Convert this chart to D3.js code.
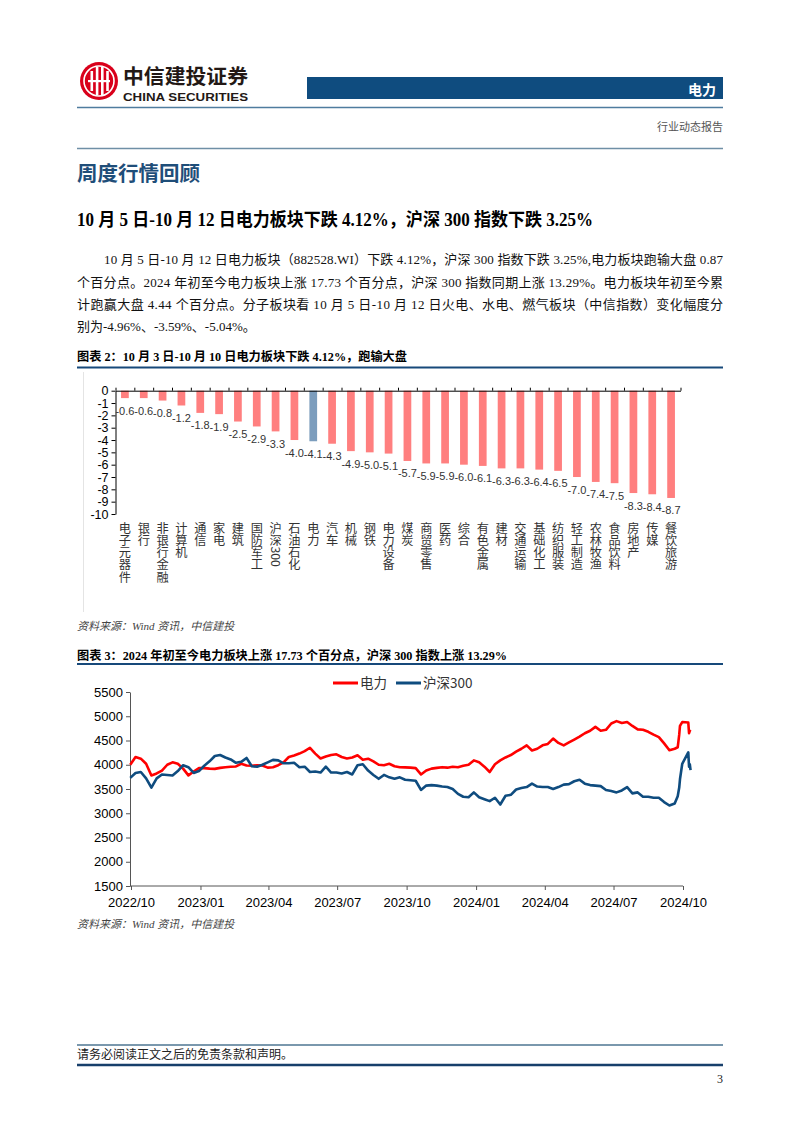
<!DOCTYPE html>
<html><head><meta charset="utf-8">
<script src="https://cdn.jsdelivr.net/npm/d3@7"></script>
<style>
body{margin:0;background:#fff;}
svg{display:block;}
</style></head><body>
<svg id="page" width="802" height="1133"></svg>
<script>
// ---------- DATA ----------
const barCategories = ["电子元器件","银行","非银行金融","计算机","通信","家电","建筑","国防军工","沪深300","石油石化","电力","汽车","机械","钢铁","电力设备","煤炭","商贸零售","医药","综合","有色金属","建材","交通运输","基础化工","纺织服装","轻工制造","农林牧渔","食品饮料","房地产","传媒","餐饮旅游"];
const barValues = [-0.6,-0.6,-0.8,-1.2,-1.8,-1.9,-2.5,-2.9,-3.3,-4.0,-4.1,-4.3,-4.9,-5.0,-5.1,-5.7,-5.9,-5.9,-6.0,-6.1,-6.3,-6.3,-6.4,-6.5,-7.0,-7.4,-7.5,-8.3,-8.4,-8.7];
const barHighlight = "电力";
const barYTicks = [0,-1,-2,-3,-4,-5,-6,-7,-8,-9,-10];

const lineDates = [
"2022-09-30","2022-10-07","2022-10-14","2022-10-21","2022-10-28","2022-11-04","2022-11-11","2022-11-18","2022-11-25","2022-12-02","2022-12-09","2022-12-16","2022-12-23","2022-12-30",
"2023-01-06","2023-01-13","2023-01-20","2023-01-27","2023-02-03","2023-02-10","2023-02-17","2023-02-24","2023-03-03","2023-03-10","2023-03-17","2023-03-24","2023-03-31","2023-04-07","2023-04-14","2023-04-21","2023-04-28","2023-05-05","2023-05-12","2023-05-19","2023-05-26","2023-06-02","2023-06-09","2023-06-16","2023-06-23","2023-06-30","2023-07-07","2023-07-14","2023-07-21","2023-07-28","2023-08-04","2023-08-11","2023-08-18","2023-08-25","2023-09-01","2023-09-08","2023-09-15","2023-09-22","2023-09-29","2023-10-06","2023-10-13","2023-10-20","2023-10-27","2023-11-03","2023-11-10","2023-11-17","2023-11-24","2023-12-01","2023-12-08","2023-12-15","2023-12-22","2023-12-29",
"2024-01-05","2024-01-12","2024-01-19","2024-01-26","2024-02-02","2024-02-09","2024-02-16","2024-02-23","2024-03-01","2024-03-08","2024-03-15","2024-03-22","2024-03-29","2024-04-05","2024-04-12","2024-04-19","2024-04-26","2024-05-03","2024-05-10","2024-05-17","2024-05-24","2024-05-31","2024-06-07","2024-06-14","2024-06-21","2024-06-28","2024-07-05","2024-07-12","2024-07-19","2024-07-26","2024-08-02","2024-08-09","2024-08-16","2024-08-23","2024-08-30","2024-09-06","2024-09-13","2024-09-20",
"2024-09-24","2024-09-26","2024-09-27","2024-09-30","2024-10-08","2024-10-09","2024-10-10","2024-10-11"];
const powerValues = [
4000,4160,4125,4020,3780,3820,3880,4000,4050,4020,3920,3780,3860,3930,
3930,3920,3915,3935,3950,3960,3965,4020,3985,3980,3990,3985,3940,3950,3990,4050,4160,4190,4230,4280,4350,4230,4130,4170,4200,4215,4160,4130,4150,4195,4105,4125,4070,4000,3990,4020,3970,3950,3945,3940,3930,3800,3880,3920,3935,3950,3940,3960,3950,3980,4000,4090,
4050,3960,3850,4010,4090,4150,4200,4270,4330,4400,4295,4330,4400,4430,4540,4450,4400,4460,4520,4580,4650,4700,4780,4700,4720,4850,4900,4860,4880,4800,4730,4720,4680,4620,4570,4440,4300,4330,
4360,4620,4800,4880,4870,4650,4700,4720];
const hs300Values = [
3730,3830,3850,3720,3530,3720,3800,3790,3780,3870,3990,3950,3830,3870,
3980,4070,4180,4200,4150,4110,4040,4060,4140,3970,3960,4000,4050,4100,4090,4030,4030,4040,3950,3960,3850,3860,3840,3960,3840,3840,3820,3850,3800,3990,4010,3880,3790,3710,3790,3740,3710,3740,3690,3680,3670,3480,3570,3580,3570,3550,3540,3500,3400,3340,3330,3430,
3330,3290,3250,3320,3180,3360,3380,3490,3520,3540,3610,3550,3540,3540,3500,3540,3590,3600,3660,3690,3610,3580,3570,3560,3480,3460,3430,3470,3540,3410,3430,3340,3340,3320,3320,3230,3160,3200,
3350,3530,3700,4020,4256,3960,4010,3890];
const lineSeriesNames = ["电力","沪深300"];
const lineYTicks = [1500,2000,2500,3000,3500,4000,4500,5000,5500];
const lineXTicks = ["2022/10","2023/01","2023/04","2023/07","2023/10","2024/01","2024/04","2024/07","2024/10"];

const paragraphLines = [
"10 月 5 日-10 月 12 日电力板块（882528.WI）下跌 4.12%，沪深 300 指数下跌 3.25%,电力板块跑输大盘 0.87",
"个百分点。2024 年初至今电力板块上涨 17.73 个百分点，沪深 300 指数同期上涨 13.29%。电力板块年初至今累",
"计跑赢大盘 4.44 个百分点。分子板块看 10 月 5 日-10 月 12 日火电、水电、燃气板块（中信指数）变化幅度分",
"别为-4.96%、-3.59%、-5.04%。"];

// ---------- STYLE ----------
const svg = d3.select("#page");
const serif = '"Liberation Serif","Times New Roman","Noto Sans CJK SC",serif';
const sans = 'Arial,"Liberation Sans","Noto Sans CJK SC",sans-serif';
const cjk = '"Noto Sans CJK SC",sans-serif';
const navy = "#17497a";
const L = 77, R = 723;

svg.append("rect").attr("width",802).attr("height",1133).attr("fill","#fff");

// ---------- HEADER ----------
const logo = svg.append("g");
logo.append("circle").attr("cx",99).attr("cy",81).attr("r",19).attr("fill","#d9001b");
logo.append("circle").attr("cx",99).attr("cy",81).attr("r",15).attr("fill","none").attr("stroke","#fff").attr("stroke-width",1.6);
[-8.5,-3.2,2,7.2].forEach((o,i)=>{
  logo.append("rect").attr("x",99+o).attr("y",i===0||i===3?71:67).attr("width",2.6)
    .attr("height",i===0||i===3?20:28).attr("fill","#fff");
});
logo.append("rect").attr("x",88).attr("y",80).attr("width",22).attr("height",2.2).attr("fill","#fff");
svg.append("text").attr("x",123).attr("y",83.5).attr("font-family",cjk).attr("font-weight","bold")
  .attr("font-size",20).attr("fill","#231815").attr("textLength",125).attr("lengthAdjust","spacingAndGlyphs").text("中信建投证券");
svg.append("text").attr("x",123).attr("y",100.5).attr("font-family",sans).attr("font-weight","bold")
  .attr("font-size",11.5).attr("fill","#231815").attr("textLength",125).attr("lengthAdjust","spacingAndGlyphs").text("CHINA SECURITIES");
svg.append("rect").attr("x",307).attr("y",77).attr("width",R-307).attr("height",22).attr("fill","#0f4c7f");
svg.append("text").attr("x",716).attr("y",94.5).attr("text-anchor","end").attr("font-family",cjk)
  .attr("font-weight","bold").attr("font-size",14).attr("fill","#fff").text("电力");
svg.append("line").attr("x1",L).attr("x2",R).attr("y1",107.5).attr("y2",107.5).attr("stroke","#4f7c9e").attr("stroke-width",1.6);
svg.append("text").attr("x",R).attr("y",131).attr("text-anchor","end").attr("font-family",cjk)
  .attr("font-size",11).attr("fill","#555").text("行业动态报告");
svg.append("line").attr("x1",L).attr("x2",R).attr("y1",148.5).attr("y2",148.5).attr("stroke","#6f8fa6").attr("stroke-width",1.6);

// ---------- SECTION TEXT ----------
svg.append("text").attr("x",L).attr("y",181).attr("font-family",cjk).attr("font-weight","bold")
  .attr("font-size",20.5).attr("fill","#1f4e79").text("周度行情回顾");
svg.append("text").attr("x",L).attr("y",226).attr("font-family",serif).attr("font-weight","bold")
  .attr("font-size",18).attr("fill","#000").attr("textLength",516).attr("lengthAdjust","spacingAndGlyphs")
  .text("10 月 5 日-10 月 12 日电力板块下跌 4.12%，沪深 300 指数下跌 3.25%");
const pY = [264,287,309,331];
paragraphLines.forEach((t,i)=>{
  const x0 = i===0?104:L;
  const tx = svg.append("text").attr("x",x0).attr("y",pY[i]).attr("font-family",serif)
    .attr("font-size",13).attr("fill","#111").text(t);
  if(i<3) tx.attr("textLength",R-x0).attr("lengthAdjust","spacing");
});

// ---------- FIGURE 2 (bar) ----------
svg.append("text").attr("x",L).attr("y",361).attr("font-family",serif).attr("font-weight","bold")
  .attr("font-size",12.5).attr("fill","#000").attr("textLength",330).attr("lengthAdjust","spacingAndGlyphs")
  .text("图表 2：10 月 3 日-10 月 10 日电力板块下跌 4.12%，跑输大盘");
svg.append("line").attr("x1",L).attr("x2",R).attr("y1",367.5).attr("y2",367.5).attr("stroke",navy).attr("stroke-width",2);
svg.append("line").attr("x1",83.5).attr("x2",83.5).attr("y1",372).attr("y2",612).attr("stroke","#e4e4e4").attr("stroke-width",1);

const bx = d3.scaleBand().domain(barCategories).range([115.5,680.5]).paddingInner(0.59).paddingOuter(0.295);
const by = d3.scaleLinear().domain([-10,0]).range([514,390.7]);
const g2 = svg.append("g");
g2.selectAll("rect.bar").data(barCategories).join("rect").attr("class","bar")
  .attr("x",d=>bx(d)).attr("width",bx.bandwidth())
  .attr("y",by(0)).attr("height",(d,i)=>by(barValues[i])-by(0))
  .attr("fill",d=>d===barHighlight?"#7c9dbd":"#ff7f7f");
const yAx2 = g2.append("g").attr("transform","translate(115.5,0)")
  .call(d3.axisLeft(by).tickValues(barYTicks).tickSize(4).tickSizeOuter(0).tickFormat(d=>String(d)));
yAx2.selectAll("text").attr("font-family",sans).attr("font-size",12.5).attr("fill","#000").attr("dy","0.34em");
yAx2.selectAll("line,path").attr("stroke","#000");
const bIdx = d3.scaleLinear().domain([0,barCategories.length]).range([115.5,680.5]);
const xAx2 = g2.append("g").attr("transform",`translate(0,${by(0)})`)
  .call(d3.axisTop(bIdx).tickValues(d3.range(barCategories.length+1)).tickSize(3).tickSizeOuter(0).tickFormat(""));
xAx2.selectAll("line,path").attr("stroke","#000");
g2.selectAll("text.val").data(barCategories).join("text").attr("class","val")
  .attr("x",d=>bx(d)+bx.bandwidth()/2).attr("y",(d,i)=>by(barValues[i])+16.5)
  .attr("text-anchor","middle").attr("font-family",sans).attr("font-size",11).attr("fill","#333")
  .text((d,i)=>barValues[i].toFixed(1));
g2.selectAll("text.cat").data(barCategories).join("text").attr("class","cat")
  .attr("x",d=>bx(d)+bx.bandwidth()/2).attr("y",522)
  .attr("style","writing-mode: vertical-rl; text-orientation: mixed;")
  .attr("font-family",'"Noto Sans CJK SC","Liberation Serif",serif').attr("font-size",12.2).attr("fill","#333")
  .text(d=>d);
svg.append("text").attr("x",L).attr("y",630).attr("font-family",serif).attr("font-style","italic")
  .attr("font-size",11).attr("fill","#444").text("资料来源：Wind 资讯，中信建投");

// ---------- FIGURE 3 (line) ----------
svg.append("text").attr("x",L).attr("y",659.5).attr("font-family",serif).attr("font-weight","bold")
  .attr("font-size",12.5).attr("fill","#000").attr("textLength",430).attr("lengthAdjust","spacingAndGlyphs")
  .text("图表 3：2024 年初至今电力板块上涨 17.73 个百分点，沪深 300 指数上涨 13.29%");
svg.append("line").attr("x1",L).attr("x2",R).attr("y1",664).attr("y2",664).attr("stroke",navy).attr("stroke-width",2);

const parseD = d3.timeParse("%Y-%m-%d");
const parseM = d3.timeParse("%Y/%m");
const dates = lineDates.map(parseD);
const axisX = 130;
const lx = d3.scaleTime().domain([parseM("2022/10"),parseM("2024/10")]).range([131,683]);
const ly = d3.scaleLinear().domain([1500,5500]).range([886,692]);
const g3 = svg.append("g");
const yAx3 = g3.append("g").attr("transform",`translate(${axisX},0)`)
  .call(d3.axisLeft(ly).tickValues(lineYTicks).tickSize(4).tickSizeOuter(0).tickFormat(d=>String(d)));
yAx3.selectAll("text").attr("font-family",sans).attr("font-size",13).attr("fill","#000");
yAx3.selectAll("line,path").attr("stroke","#555");
const xAx3 = g3.append("g").attr("transform","translate(0,886)")
  .call(d3.axisBottom(lx).tickValues(lineXTicks.map(parseM)).tickSize(4).tickSizeOuter(0).tickFormat(d3.timeFormat("%Y/%m")));
xAx3.select("path.domain").attr("d",`M${axisX},0H${lx(parseM("2024/10"))}`);
xAx3.selectAll("text").attr("font-family",sans).attr("font-size",13).attr("fill","#000").attr("dy","1.05em");
xAx3.selectAll("line,path").attr("stroke","#555");
const lineGen = vals => d3.line().x((d,i)=>lx(dates[i])).y(d=>ly(d))(vals);
const lineColors = ["#ff0000","#0f4c7f"];
[powerValues,hs300Values].forEach((vals,k)=>{
  g3.append("path").attr("d",lineGen(vals)).attr("fill","none").attr("stroke",lineColors[k])
    .attr("stroke-width",2.6).attr("stroke-linejoin","round");
});
// legend
const lg = svg.append("g");
const legX = [333,396];
lineSeriesNames.forEach((n,k)=>{
  lg.append("line").attr("x1",legX[k]).attr("x2",legX[k]+25).attr("y1",683).attr("y2",683)
    .attr("stroke",lineColors[k]).attr("stroke-width",3);
  lg.append("text").attr("x",legX[k]+27).attr("y",688).attr("font-family",cjk).attr("font-size",13.5)
    .attr("fill","#333").text(n);
});
svg.append("text").attr("x",L).attr("y",928).attr("font-family",serif).attr("font-style","italic")
  .attr("font-size",11).attr("fill","#444").text("资料来源：Wind 资讯，中信建投");

// ---------- FOOTER ----------
svg.append("line").attr("x1",L).attr("x2",R).attr("y1",1045).attr("y2",1045).attr("stroke","#7a98ad").attr("stroke-width",2);
svg.append("text").attr("x",L).attr("y",1058.5).attr("font-family",serif).attr("font-size",12)
  .attr("fill","#222").text("请务必阅读正文之后的免责条款和声明。");
svg.append("line").attr("x1",L).attr("x2",R).attr("y1",1065).attr("y2",1065).attr("stroke","#173f6b").attr("stroke-width",2.5);
svg.append("text").attr("x",R).attr("y",1083).attr("text-anchor","end").attr("font-family",serif)
  .attr("font-size",12).attr("fill","#222").text("3");
</script>
</body></html>
